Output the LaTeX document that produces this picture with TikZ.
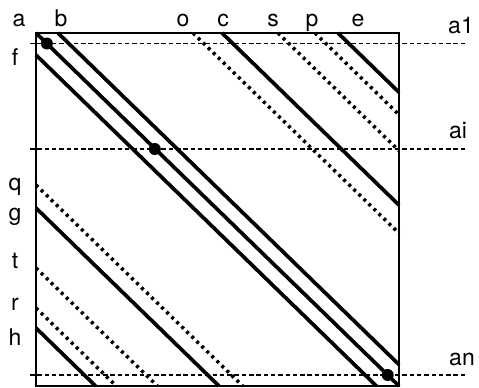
\documentclass[tikz,border=0pt]{standalone}
\usepackage{fontspec}
\setmainfont{TeX Gyre Heros}
\begin{document}
\begin{tikzpicture}[x=1pt,y=-1pt,
  frame/.style={line width=1.8pt},
  band/.style={line width=3.7pt},
  dotband/.style={line width=3.5pt,dash pattern=on 3pt off 4pt},
  level/.style={line width=1.8pt,dash pattern=on 4.5pt off 2.8pt},
  pivot/.style={fill=black,circle,inner sep=0pt,minimum size=12pt},
  lbl/.style={font=\fontsize{23}{23}\selectfont,anchor=base,inner sep=0pt}]
\useasboundingbox (0,0) rectangle (479,388);

% matrix frame
\coordinate (NW) at (36,33);
\coordinate (NE) at (399,33);
\coordinate (SW) at (36,386);
\coordinate (SE) at (399,386);
\draw[frame] (NW) -- (NE) -- (SE) -- (SW) -- cycle;

% column labels
\node[lbl] (la) at (19,27) {a};
\node[lbl] (lb) at (61,27) {b};
\node[lbl] (lo) at (183,27) {o};
\node[lbl] (lc) at (223,27) {c};
\node[lbl] (ls) at (273,27) {s};
\node[lbl] (lp) at (312,27) {p};
\node[lbl] (le) at (358,27) {e};

% row labels
\node[lbl] (lf) at (15,65) {f};
\node[lbl] (lq) at (15,190) {q};
\node[lbl] (lg) at (15,220) {g};
\node[lbl] (lt) at (15,268) {t};
\node[lbl] (lr) at (15,310) {r};
\node[lbl] (lh) at (15,345) {h};

% level labels
\node[lbl] (la1) at (461,33) {a1};
\node[lbl] (lai) at (458,138) {ai};
\node[lbl] (lan) at (462,365) {an};

% level lines
\coordinate (a1w) at (30,43.5);  \coordinate (a1e) at (467,43.5);
\coordinate (aiw) at (30,149);   \coordinate (aie) at (467,149);
\coordinate (anw) at (30,375);   \coordinate (ane) at (467,375);
\draw[level] (a1w) -- (a1e);
\draw[level] (aiw) -- (aie);
\draw[level] (anw) -- (ane);

% solid diagonals
\coordinate (bS) at (58,33);   \coordinate (bE) at (399,364.6);
\coordinate (fS) at (36,55);   \coordinate (fE) at (376.4,386);
\coordinate (cS) at (222,33);  \coordinate (cE) at (399,205.1);
\coordinate (eS) at (338,33);  \coordinate (eE) at (399,92.3);
\coordinate (gS) at (36,208);  \coordinate (gE) at (219,386);
\coordinate (hS) at (36,328);  \coordinate (hE) at (95.6,386);
\draw[band] (NW) -- (SE);
\draw[band] (bS) -- (bE);
\draw[band] (fS) -- (fE);
\draw[band] (cS) -- (cE);
\draw[band] (eS) -- (eE);
\draw[band] (gS) -- (gE);
\draw[band] (hS) -- (hE);

% dotted diagonals
\coordinate (oS) at (193,33);  \coordinate (oE) at (399,233.3);
\coordinate (sS) at (278,33);  \coordinate (sE) at (399,150.7);
\coordinate (pS) at (315,33);  \coordinate (pE) at (399,114.7);
\coordinate (qS) at (36,185);  \coordinate (qE) at (242.7,386);
\coordinate (tS) at (36,268);  \coordinate (tE) at (157.4,386);
\coordinate (rS) at (36,308);  \coordinate (rE) at (116.2,386);
\draw[dotband] (oS) -- (oE);
\draw[dotband] (sS) -- (sE);
\draw[dotband] (pS) -- (pE);
\draw[dotband] (qS) -- (qE);
\draw[dotband] (tS) -- (tE);
\draw[dotband] (rS) -- (rE);

% pivots on the main diagonal
\node[pivot] (d1) at (46.9,43.5) {};
\node[pivot] (di) at (154.8,149) {};
\node[pivot] (dn) at (387.7,375) {};
\end{tikzpicture}
\end{document}
